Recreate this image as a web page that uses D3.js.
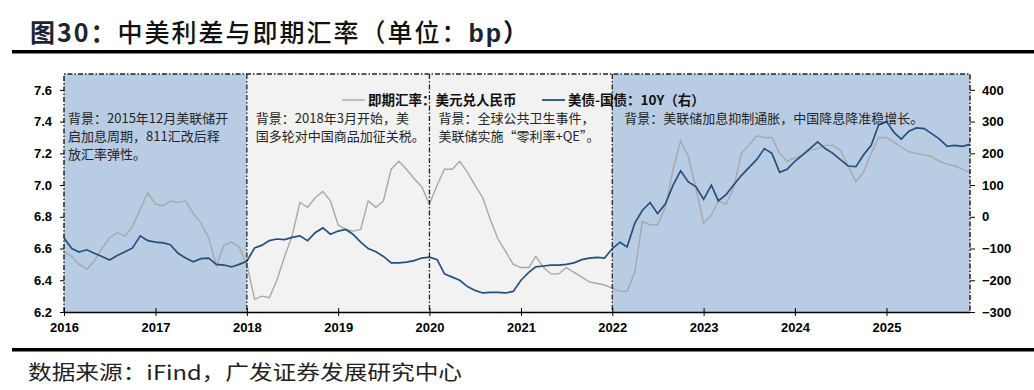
<!DOCTYPE html>
<html>
  <head>
    <meta charset="utf-8">
    <title>中美利差与即期汇率</title>
    <script src="https://cdn.jsdelivr.net/npm/d3@7"></script>
    <style>
      body { margin: 0; background: #fff; }
      .cjk { font-family: "Noto Sans CJK SC", sans-serif; }
      .axis text { font-family: "Liberation Sans", Arial, sans-serif; font-weight: bold; font-size: 13px; fill: #000; }
      .axis line, .axis path { stroke: #000; }
    </style>
  </head>
  <body>
    <svg id="chart" width="1034" height="390"></svg>
    <script>
      // monthly values, Jan 2016 .. Dec 2025 (last point = end of Nov 2025)
      const fxSpot = [
        6.58, 6.55, 6.50, 6.47, 6.52, 6.60, 6.67, 6.70, 6.68, 6.74, 6.85, 6.95,
        6.88, 6.87, 6.90, 6.89, 6.90, 6.82, 6.76, 6.67, 6.49, 6.62, 6.64, 6.61,
        6.50, 6.28, 6.30, 6.29, 6.40, 6.55, 6.68, 6.89, 6.86, 6.92, 6.96, 6.90,
        6.75, 6.72, 6.71, 6.72, 6.90, 6.86, 6.90, 7.10, 7.15, 7.10, 7.04, 6.99,
        6.88, 7.00, 7.10, 7.10, 7.15, 7.08, 7.00, 6.92, 6.78, 6.66, 6.58, 6.50,
        6.48, 6.48, 6.55, 6.48, 6.44, 6.44, 6.48, 6.45, 6.42, 6.39, 6.38, 6.37,
        6.35, 6.33, 6.33, 6.45, 6.77, 6.75, 6.75, 6.86, 7.10, 7.28, 7.18, 6.98,
        6.76, 6.81, 6.90, 6.88, 6.98, 7.20, 7.25, 7.31, 7.30, 7.30, 7.20, 7.15,
        7.17, 7.19, 7.22, 7.23, 7.25, 7.25, 7.22, 7.12, 7.02, 7.08, 7.20, 7.30,
        7.30, 7.27, 7.24, 7.21, 7.20, 7.19, 7.18, 7.15, 7.13, 7.12, 7.10, 7.08
      ];
      const spreadBp = [
        -67, -100, -111, -104, -115, -125, -136, -122, -110, -98, -60, -75,
        -80, -82, -88, -115, -130, -142, -132, -130, -150, -152, -158, -150,
        -140, -98, -90, -75, -70, -72, -65, -60, -75, -50, -35, -55,
        -45, -40, -55, -80, -100, -110, -125, -145, -145, -143, -138, -130,
        -127, -135, -180, -190, -200, -220, -232, -240, -238, -238, -240, -235,
        -200, -175, -158, -155, -152, -152, -150, -145, -135, -130, -128, -130,
        -100, -80, -95, -20, 20, 45, 10, 40, 100, 145, 110, 95,
        55, 100, 50, 70, 100, 130, 155, 180, 215, 200, 140, 150,
        175, 195, 215, 236, 215, 200, 180, 160, 158, 195, 225, 290,
        300, 265, 245, 270, 280, 278, 262, 245, 222, 225, 222, 228
      ];
      const leftTicks = [6.2, 6.4, 6.6, 6.8, 7.0, 7.2, 7.4, 7.6];
      const rightTicks = [-300, -200, -100, 0, 100, 200, 300, 400];
      const yearTicks = [2016, 2017, 2018, 2019, 2020, 2021, 2022, 2023, 2024, 2025];
      const periodBreaks = [2018, 2020, 2022];
      const legendLabels = ["即期汇率：美元兑人民币", "美债-国债：10Y（右）"];
      const notes = [
        ["背景：2015年12月美联储开", "启加息周期，811汇改后释", "放汇率弹性。"],
        ["背景：2018年3月开始，美", "国多轮对中国商品加征关税。"],
        ["背景：全球公共卫生事件，", "美联储实施“零利率+QE”。"],
        ["背景：美联储加息抑制通胀，中国降息降准稳增长。"]
      ];
      const titleText = ["图30：", "中美利差与即期汇率（单位：", "bp", "）"];
      const sourceText = "数据来源：iFind，广发证券发展研究中心";

      const months = fxSpot.map((d, i) => new Date(2016, i, 1));
      const svg = d3.select("#chart");
      const plotLeft = 64, plotRight = 970, plotTop = 74, plotBottom = 312;
      const blueFill = "#b8cce4", greyFill = "#f2f2f2";
      const dashDot = "5,2,1.5,2";

      const x = d3.scaleTime()
        .domain([months[0], months[months.length - 1]])
        .range([plotLeft, plotRight]);
      const yL = d3.scaleLinear().domain([6.2, 7.7]).range([plotBottom, plotTop]);
      const yR = d3.scaleLinear().domain([-300, 450]).range([plotBottom, plotTop]);
      const yr = y => x(new Date(y, 0, 1));

      // title + rules
      const title = svg.append("text")
        .attr("class", "cjk")
        .attr("x", 30).attr("y", 42)
        .attr("font-size", 25).attr("fill", "#111")
        .attr("textLength", 498).attr("lengthAdjust", "spacing");
      title.selectAll("tspan")
        .data(titleText)
        .enter().append("tspan")
          .attr("font-weight", (d, i) => i == 1 ? 500 : "bold")
          .attr("fill", (d, i) => i == 0 || i == 2 ? "#1c2434" : "#111")
          .attr("font-family", (d, i) => i == 2 ? "Liberation Sans, Arial" : null)
          .text(d => d);
      svg.append("rect").attr("x", 12).attr("y", 50).attr("width", 1022).attr("height", 3.5).attr("fill", "#000");
      svg.append("rect").attr("x", 12).attr("y", 348).attr("width", 1022).attr("height", 3.5).attr("fill", "#000");
      svg.append("text")
        .attr("class", "cjk")
        .attr("x", 28).attr("y", 380)
        .attr("font-size", 20).attr("fill", "#222")
        .attr("textLength", 434).attr("lengthAdjust", "spacingAndGlyphs")
        .text(sourceText);

      // period shading
      const bands = [[months[0], new Date(2018, 0, 1), blueFill],
                     [new Date(2018, 0, 1), new Date(2022, 0, 1), greyFill],
                     [new Date(2022, 0, 1), months[months.length - 1], blueFill]];
      svg.selectAll(".band")
        .data(bands)
        .enter().append("rect")
          .attr("class", "band")
          .attr("x", d => x(d[0]))
          .attr("y", plotTop)
          .attr("width", d => x(d[1]) - x(d[0]))
          .attr("height", plotBottom - plotTop)
          .attr("fill", d => d[2]);

      // lines
      const fxLine = d3.line().x((d, i) => x(months[i])).y(d => yL(d));
      const spreadLine = d3.line().x((d, i) => x(months[i])).y(d => yR(d));
      svg.append("path").datum(fxSpot)
        .attr("d", fxLine)
        .attr("fill", "none").attr("stroke", "#a8a8a8").attr("stroke-width", 1.4);
      svg.append("path").datum(spreadBp)
        .attr("d", spreadLine)
        .attr("fill", "none").attr("stroke", "#24507f").attr("stroke-width", 1.7);

      // dash-dot frame and period dividers
      svg.selectAll(".divider")
        .data(periodBreaks)
        .enter().append("line")
          .attr("class", "divider")
          .attr("x1", yr).attr("x2", yr)
          .attr("y1", plotTop).attr("y2", plotBottom)
          .attr("stroke", "#222").attr("stroke-width", 1.3)
          .attr("stroke-dasharray", dashDot);
      svg.append("path")
        .attr("d", `M${plotLeft},${plotBottom}V${plotTop}H${plotRight}V${plotBottom}`)
        .attr("fill", "none").attr("stroke", "#222").attr("stroke-width", 1.5)
        .attr("stroke-dasharray", dashDot);

      // axes
      svg.append("g")
        .attr("class", "axis")
        .attr("transform", `translate(0,${plotBottom})`)
        .call(d3.axisBottom(x)
          .tickValues(yearTicks.map(y => new Date(y, 0, 1)))
          .tickFormat(d3.timeFormat("%Y"))
          .tickSizeInner(4).tickSizeOuter(0).tickPadding(7))
        .call(g => g.select(".domain").attr("stroke-width", 1.5))
        .call(g => g.selectAll(".tick line").attr("y1", -4));
      svg.append("g")
        .attr("class", "axis")
        .attr("transform", `translate(${plotLeft},0)`)
        .call(d3.axisLeft(yL).tickValues(leftTicks).tickFormat(d3.format(".1f"))
          .tickSizeInner(4).tickSizeOuter(0).tickPadding(8))
        .call(g => g.select(".domain").remove());
      svg.append("g")
        .attr("class", "axis")
        .attr("transform", `translate(${plotRight},0)`)
        .call(d3.axisRight(yR).tickValues(rightTicks)
          .tickSizeInner(5).tickSizeOuter(0).tickPadding(7))
        .call(g => g.select(".domain").remove());

      // legend
      const legend = svg.append("g").attr("class", "cjk").attr("font-size", 13.5).attr("font-weight", "bold");
      const legendX = [342, 542];
      const legendColor = ["#a8a8a8", "#24507f"];
      legendLabels.forEach((label, i) => {
        legend.append("line")
          .attr("x1", legendX[i]).attr("x2", legendX[i] + 23)
          .attr("y1", 100).attr("y2", 100)
          .attr("stroke", legendColor[i]).attr("stroke-width", i ? 1.8 : 1.4);
        legend.append("text")
          .attr("x", legendX[i] + 26).attr("y", 105)
          .attr("fill", "#111")
          .text(label);
      });

      // annotations
      const noteX = [yr(2016) + 4, yr(2018) + 9, yr(2020) + 9, yr(2022) + 12];
      notes.forEach((lines, i) => {
        svg.append("text")
          .attr("class", "cjk")
          .attr("font-size", 13).attr("fill", "#262626")
          .selectAll("tspan")
          .data(lines)
          .enter().append("tspan")
            .attr("x", noteX[i])
            .attr("y", (d, j) => 122.5 + j * 18)
            .text(d => d);
      });
    </script>
  </body>
</html>
